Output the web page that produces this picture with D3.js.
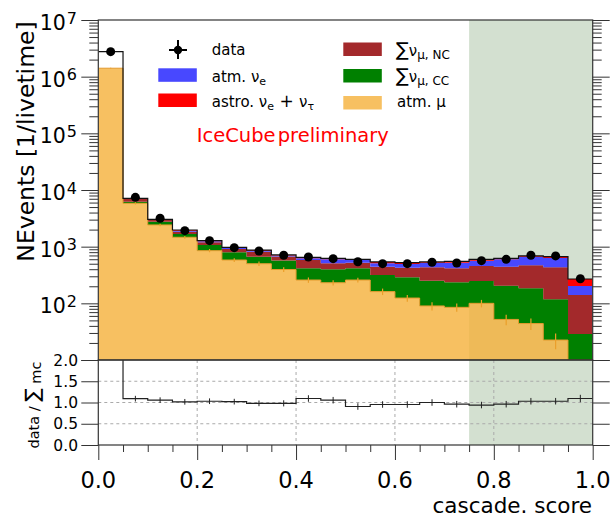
<!DOCTYPE html>
<html>
<head>
<meta charset="utf-8">
<script src="https://cdn.jsdelivr.net/npm/d3@7"></script>
<style>
  body { margin: 0; background: #fff; }
  svg { display: block; font-family: "DejaVu Sans", sans-serif; }
</style>
</head>
<body>
<svg id="chart" width="614" height="518"></svg>
<script>
// bin edges of cascade score (20 bins)
const edges = [0.00, 0.05, 0.10, 0.15, 0.20, 0.25, 0.30, 0.35, 0.40, 0.45, 0.50,
               0.55, 0.60, 0.65, 0.70, 0.75, 0.80, 0.85, 0.90, 0.95, 1.00];

// events per livetime
const data    = [2.76e6, 7430, 3170, 1915, 1275, 960, 839, 705, 658, 614, 543, 501, 501, 530, 515, 566, 598, 705, 686, 272];
const mcTotal = [2.76e6, 7130, 3040, 1970, 1275, 975, 870, 715, 649, 622, 598, 537, 521, 537, 552, 598, 622, 686, 665, 269];
const atmMu   = [1.41e6, 5820, 2420, 1465, 850, 582, 500, 395, 258, 231, 258, 161, 124, 90, 85, 100, 52, 44, 22.5, 0];
const atmMuErr = [20000, 250, 120, 80, 55, 45, 45, 38, 28, 25, 26, 21, 17, 15, 14, 15, 11, 10, 7, 0];
const numuCC  = [1500, 400, 340, 210, 222, 214, 165, 175, 157, 168, 157, 155, 165, 161, 150, 148, 153, 140, 96, 28.8];
const numuNC  = [600, 720, 200, 165, 123, 114, 150, 100, 167, 109, 106, 127, 137, 182, 180, 208, 238, 285, 314, 111];
const atmNuE  = [300, 90, 50, 70, 45, 45, 35, 25, 45, 90, 60, 67, 68, 88, 106, 110, 155, 196, 198, 62];
const astro   = [100, 100, 30, 60, 35, 20, 20, 20, 22, 24, 17, 27, 27, 16, 31, 32, 24, 21, 34, 67];

// data / sum mc
const ratio    = [2.3, 1.09, 1.055, 1.016, 1.03, 1.02, 0.98, 0.98, 1.094, 1.054, 0.906, 0.953, 0.953, 1.0, 0.96, 0.94, 0.96, 1.03, 1.03, 1.094];
const ratioErr = [0, 0.02, 0.02, 0.02, 0.02, 0.02, 0.02, 0.025, 0.03, 0.03, 0.03, 0.03, 0.03, 0.03, 0.03, 0.03, 0.03, 0.03, 0.03, 0.04];

const xTicks = [0, 0.2, 0.4, 0.6, 0.8, 1.0];
const xMinorTicks = [0.05, 0.1, 0.15, 0.25, 0.3, 0.35, 0.45, 0.5, 0.55, 0.65, 0.7, 0.75, 0.85, 0.9, 0.95];
const yDecades = [1e1, 1e2, 1e3, 1e4, 1e5, 1e6, 1e7];
const yLabelled = [1e2, 1e3, 1e4, 1e5, 1e6, 1e7];
const ratioTicks = [0, 0.5, 1.0, 1.5, 2.0];
const ratioGridY = [0.5, 1.0, 1.5];
const ratioGridX = [0.2, 0.4, 0.6, 0.8];
const signalRegion = [0.75, 1.0];

const X0 = 98.3, X1 = 592.7, YT = 20, YM = 360, YB = 445;
const ink = '#333';

const svg = d3.select('#chart');
const x = d3.scaleLinear().domain([0, 1]).range([X0, X1]);
const y = d3.scaleLog().domain([10, 1e7]).range([YM, YT]).clamp(true);
const yr = d3.scaleLinear().domain([0, 2]).range([YB, YM]);

const defs = svg.append('defs');
defs.append('clipPath').attr('id', 'clipMain').append('rect')
  .attr('x', X0).attr('y', YT).attr('width', X1 - X0).attr('height', YM - YT);
defs.append('clipPath').attr('id', 'clipRatio').append('rect')
  .attr('x', X0).attr('y', YM).attr('width', X1 - X0).attr('height', YB - YM);

const nb = edges.length - 1;
const stepOf = arr => edges.map((e, k) => [e, arr[Math.min(k, nb - 1)]]);

// ---------- main panel ----------
const main = svg.append('g').attr('clip-path', 'url(#clipMain)');

main.append('rect')
  .attr('x', x(signalRegion[0])).attr('y', YT)
  .attr('width', x(signalRegion[1]) - x(signalRegion[0])).attr('height', YM - YT)
  .attr('fill', '#d3e0d0');

const keys = ['atmMu', 'numuCC', 'numuNC', 'atmNuE', 'astro'];
const colors = { atmMu: '#f5b03a', numuCC: '#008000', numuNC: '#a3292b', atmNuE: '#4848ff', astro: '#ff0000' };
const rows = atmMu.map((v, i) => ({ atmMu: v, numuCC: numuCC[i], numuNC: numuNC[i], atmNuE: atmNuE[i], astro: astro[i] }));
const layers = d3.stack().keys(keys)(rows);

const area = d3.area().curve(d3.curveStepAfter)
  .x(d => x(d[0]))
  .y0(d => y(Math.max(d[1][0], 1)))
  .y1(d => y(Math.max(d[1][1], 1)));

main.selectAll('path.layer')
  .data(layers)
  .join('path')
  .attr('class', 'layer')
  .attr('d', L => area(edges.map((e, k) => [e, L[Math.min(k, nb - 1)]])))
  .attr('fill', L => colors[L.key])
  .attr('fill-opacity', L => L.key === 'atmMu' ? 0.8 : 1);

const step = d3.line().curve(d3.curveStepAfter)
  .x(d => x(d[0]))
  .y(d => y(Math.max(d[1], 1)));

// atm. mu outline and errors
main.append('path').attr('d', step(stepOf(atmMu)))
  .attr('fill', 'none').attr('stroke', '#e39a2d').attr('stroke-width', 1);

main.selectAll('line.muerr')
  .data(atmMu.map((v, i) => ({ v, e: atmMuErr[i], c: (edges[i] + edges[i + 1]) / 2 })).filter(d => d.v > 0))
  .join('line')
  .attr('class', 'muerr')
  .attr('x1', d => x(d.c)).attr('x2', d => x(d.c))
  .attr('y1', d => y(d.v + d.e)).attr('y2', d => y(Math.max(d.v - d.e, 1)))
  .attr('stroke', '#eb9f2a').attr('stroke-width', 1.2);

// total outline
main.append('path').attr('d', step(stepOf(mcTotal)))
  .attr('fill', 'none').attr('stroke', '#111').attr('stroke-width', 1.2);

// data points
main.selectAll('circle.data')
  .data(data.map((v, i) => ({ v, c: (edges[i] + edges[i + 1]) / 2 })))
  .join('circle')
  .attr('class', 'data')
  .attr('cx', d => x(d.c)).attr('cy', d => y(d.v))
  .attr('r', 4.5).attr('fill', '#000');

// ---------- ratio panel ----------
const rat = svg.append('g').attr('clip-path', 'url(#clipRatio)');

rat.append('rect')
  .attr('x', x(signalRegion[0])).attr('y', YM)
  .attr('width', x(signalRegion[1]) - x(signalRegion[0])).attr('height', YB - YM)
  .attr('fill', '#d3e0d0');

rat.selectAll('line.gy').data(ratioGridY).join('line')
  .attr('x1', X0).attr('x2', X1).attr('y1', d => yr(d)).attr('y2', d => yr(d))
  .attr('stroke', '#aaa').attr('stroke-dasharray', '3,3');
rat.selectAll('line.gx').data(ratioGridX).join('line')
  .attr('x1', d => x(d)).attr('x2', d => x(d)).attr('y1', YM).attr('y2', YB)
  .attr('stroke', '#aaa').attr('stroke-dasharray', '3,3');

const rstep = d3.line().curve(d3.curveStepAfter).x(d => x(d[0])).y(d => yr(d[1]));
rat.append('path').attr('d', rstep(stepOf(ratio)))
  .attr('fill', 'none').attr('stroke', '#222').attr('stroke-width', 1.2);

rat.selectAll('line.rerr')
  .data(ratio.map((v, i) => ({ v, e: ratioErr[i], c: (edges[i] + edges[i + 1]) / 2 })))
  .join('line')
  .attr('x1', d => x(d.c)).attr('x2', d => x(d.c))
  .attr('y1', d => yr(d.v + d.e) - 2).attr('y2', d => yr(d.v - d.e) + 2)
  .attr('stroke', '#222').attr('stroke-width', 1);

// ---------- frames and axes ----------
[[YT, YM], [YM, YB]].forEach(([a, b]) => {
  svg.append('rect').attr('x', X0).attr('y', a).attr('width', X1 - X0).attr('height', b - a)
    .attr('fill', 'none').attr('stroke', ink).attr('stroke-width', 1.2);
});

const minorY = [];
yDecades.slice(0, -1).forEach(d => { for (let k = 2; k <= 9; k++) minorY.push(k * d); });

function ticks(axis, at) {
  const g = svg.append('g').attr('transform', at).call(axis);
  g.select('.domain').remove();
  g.selectAll('line').attr('stroke', ink);
  return g;
}
ticks(d3.axisLeft(y).tickValues(yDecades).tickSize(17).tickFormat(''), `translate(${X0},0)`);
ticks(d3.axisLeft(y).tickValues(minorY).tickSize(9).tickFormat(''), `translate(${X0},0)`);
ticks(d3.axisRight(y).tickValues(yDecades).tickSize(17).tickFormat(''), `translate(${X1},0)`);
ticks(d3.axisRight(y).tickValues(minorY).tickSize(9).tickFormat(''), `translate(${X1},0)`);
ticks(d3.axisLeft(yr).tickValues(ratioTicks).tickSize(17).tickFormat(''), `translate(${X0},0)`);
ticks(d3.axisRight(yr).tickValues(ratioTicks).tickSize(17).tickFormat(''), `translate(${X1},0)`);
ticks(d3.axisBottom(x).tickValues(xTicks).tickSize(15).tickFormat(''), `translate(0,${YB})`);
ticks(d3.axisBottom(x).tickValues(xMinorTicks).tickSize(7).tickFormat(''), `translate(0,${YB})`);

// y tick labels 10^n
svg.selectAll('text.ylab').data(yLabelled).join('text')
  .attr('class', 'ylab')
  .attr('x', 77).attr('y', d => y(d) + 10)
  .attr('text-anchor', 'end')
  .style('font-size', '20.5px')
  .each(function (d) {
    const t = d3.select(this);
    t.append('tspan').text('10');
    t.append('tspan').attr('dy', -6.5).attr('dx', 1).style('font-size', '16px').text(Math.round(Math.log10(d)));
  });

svg.selectAll('text.rlab').data(ratioTicks).join('text')
  .attr('class', 'rlab')
  .attr('x', 78).attr('y', d => yr(d) + 5.5)
  .attr('text-anchor', 'end')
  .style('font-size', '15.5px')
  .text(d3.format('.1f'));

svg.selectAll('text.xlab').data(xTicks).join('text')
  .attr('class', 'xlab')
  .attr('x', d => x(d)).attr('y', 487.5)
  .attr('text-anchor', 'middle')
  .style('font-size', '22.5px')
  .text(d3.format('.1f'));

svg.append('text').attr('x', 592).attr('y', 512.5).attr('text-anchor', 'end')
  .style('font-size', '21.5px').text('cascade. score');

svg.append('text').attr('transform', 'translate(33.5,141.5) rotate(-90)')
  .attr('text-anchor', 'middle').style('font-size', '23.5px').text('NEvents [1/livetime]');

const rl = svg.append('text').attr('transform', 'translate(38.5,405) rotate(-90)')
  .attr('text-anchor', 'middle').style('font-size', '14.5px');
rl.append('tspan').text('data / ');
rl.append('tspan').style('font-size', '20px').text('∑');
rl.append('tspan').attr('dy', 2).text(' mc');

// ---------- legend ----------
const leg = svg.append('g');
leg.append('line').attr('x1', 169).attr('x2', 187).attr('y1', 50).attr('y2', 50).attr('stroke', '#000').attr('stroke-width', 2);
leg.append('line').attr('x1', 178).attr('x2', 178).attr('y1', 40).attr('y2', 59).attr('stroke', '#000').attr('stroke-width', 2);
leg.append('circle').attr('cx', 178).attr('cy', 50).attr('r', 4.2).attr('fill', '#000');

const boxes = [
  { key: 'atmNuE', x: 158.3, y: 68.3 },
  { key: 'astro', x: 158.3, y: 93.5 },
  { key: 'numuNC', x: 343.3, y: 42.5 },
  { key: 'numuCC', x: 343.3, y: 69 },
  { key: 'atmMu', x: 343.3, y: 96 }
];
leg.selectAll('rect').data(boxes).join('rect')
  .attr('x', d => d.x).attr('y', d => d.y).attr('width', 38.5).attr('height', 13.5)
  .attr('fill', d => colors[d.key]).attr('fill-opacity', d => d.key === 'atmMu' ? 0.8 : 1);

function legText(px, py, parts) {
  const t = leg.append('text').attr('x', px).attr('y', py).style('font-size', '15px');
  parts.forEach(p => {
    const s = t.append('tspan').text(p[0]);
    if (p[1]) s.style('font-size', p[1] + 'px');
    if (p[2]) s.attr('dy', p[2]);
  });
}
legText(211.7, 55, [['data']]);
legText(211.7, 81.5, [['atm. ν'], ['e', 11, 3.5]]);
legText(211.7, 106.5, [['astro. ν'], ['e', 11, 3.5], [' + ', 17, -3.5], ['ν'], ['τ', 11, 3.5]]);
legText(396, 55.5, [['∑', 19], ['ν'], ['μ, NC', 12, 3]]);
legText(396, 82, [['∑', 19], ['ν'], ['μ, CC', 12, 3]]);
legText(397, 107, [['atm. μ']]);

svg.append('text').attr('x', 196.7).attr('y', 141.7)
  .style('font-size', '19.5px').style('word-spacing', '-4px').attr('fill', '#ff0000')
  .text('IceCube preliminary');
</script>
</body>
</html>
